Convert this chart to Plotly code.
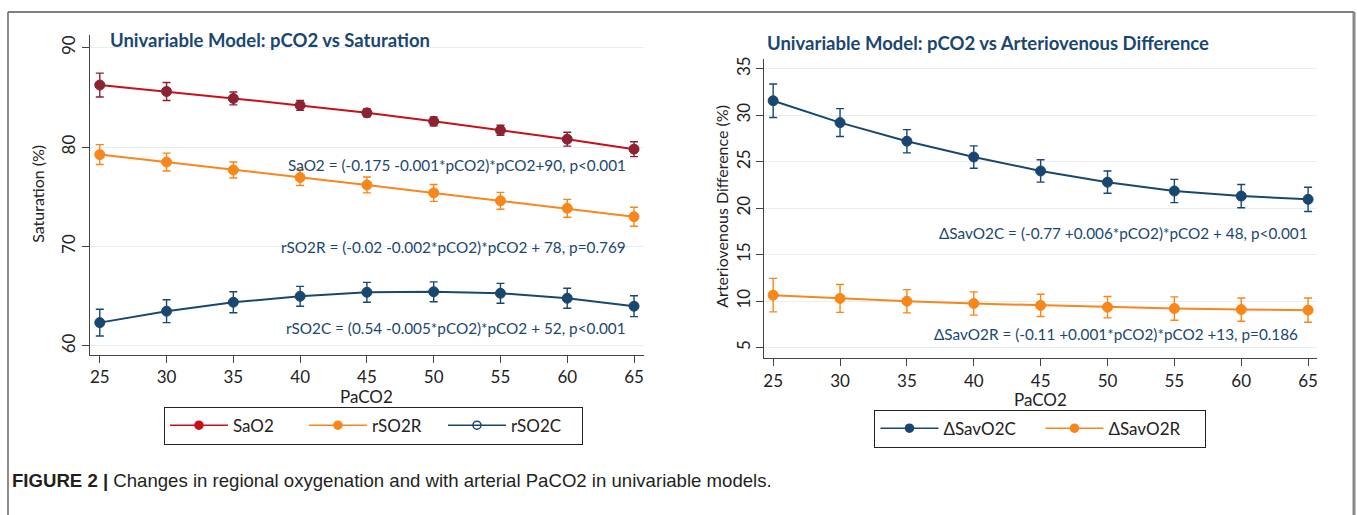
import plotly.graph_objects as go

W, H = 1357, 515

# ---------------- data ----------------
paco2 = [25, 30, 35, 40, 45, 50, 55, 60, 65]

sao2 = [86.25, 85.6, 84.9, 84.2, 83.45, 82.6, 81.7, 80.8, 79.8]
sao2_err = [1.2, 0.9, 0.65, 0.5, 0.4, 0.45, 0.5, 0.7, 0.75]

rso2r = [79.25, 78.5, 77.7, 76.95, 76.2, 75.4, 74.6, 73.85, 73.0]
rso2r_err = [1.0, 0.9, 0.8, 0.8, 0.8, 0.85, 0.85, 0.9, 0.95]

rso2c = [62.35, 63.5, 64.4, 65.0, 65.4, 65.45, 65.3, 64.8, 64.0]
rso2c_err = [1.35, 1.15, 1.05, 1.0, 1.0, 1.0, 1.0, 1.0, 1.05]

savo2c = [31.55, 29.2, 27.2, 25.5, 24.0, 22.8, 21.85, 21.3, 20.95]
savo2c_err = [1.8, 1.5, 1.25, 1.2, 1.2, 1.2, 1.25, 1.25, 1.3]

savo2r = [10.65, 10.3, 10.0, 9.75, 9.55, 9.36, 9.21, 9.1, 9.04]
savo2r_err = [1.8, 1.5, 1.25, 1.25, 1.2, 1.15, 1.25, 1.25, 1.3]

left_yticks = [60, 70, 80, 90]
right_yticks = [5, 10, 15, 20, 25, 30, 35]
xticks = [25, 30, 35, 40, 45, 50, 55, 60, 65]

# ---------------- styles ----------------
NAVY = "#1a476f"
RED = "#c8101a"
MAROON = "#8b2332"
ORANGE = "#f7861b"
GRID = "#e6eff3"
AXIS = "#444444"
TXT = "#222222"
FONT = "Lato, Open Sans, sans-serif"


def px_x(p):
    return p / W


def px_y(p):
    return 1 - p / H


fig = go.Figure()


def add_series(x, y, err, line_color, marker_color, xa, ya, name):
    fig.add_trace(go.Scatter(
        x=x, y=y, mode="lines+markers", name=name,
        xaxis=xa, yaxis=ya, showlegend=False,
        line=dict(color=line_color, width=2),
        marker=dict(color=marker_color, size=10,
                    line=dict(color=marker_color, width=1)),
        error_y=dict(type="data", array=err, visible=True,
                     color=marker_color, thickness=1.4, width=4),
    ))


add_series(paco2, sao2, sao2_err, RED, MAROON, "x", "y", "SaO2")
add_series(paco2, rso2r, rso2r_err, ORANGE, ORANGE, "x", "y", "rSO2R")
add_series(paco2, rso2c, rso2c_err, NAVY, NAVY, "x", "y", "rSO2C")
add_series(paco2, savo2c, savo2c_err, NAVY, NAVY, "x2", "y2", "ΔSavO2C")
add_series(paco2, savo2r, savo2r_err, ORANGE, ORANGE, "x2", "y2", "ΔSavO2R")

# legend-only entries (Stata style symbols)
leg_items = [
    ("SaO2", RED, RED, "circle", "legend", "x", "y"),
    ("rSO2R", ORANGE, ORANGE, "circle", "legend", "x", "y"),
    ("rSO2C", NAVY, NAVY, "circle-open", "legend", "x", "y"),
    ("ΔSavO2C", NAVY, NAVY, "circle", "legend2", "x2", "y2"),
    ("ΔSavO2R", ORANGE, ORANGE, "circle", "legend2", "x2", "y2"),
]
for name, lc, mc, sym, leg, xa, ya in leg_items:
    fig.add_trace(go.Scatter(
        x=[None], y=[None], mode="lines+markers", name=name,
        xaxis=xa, yaxis=ya, legend=leg,
        line=dict(color=lc, width=1.5),
        marker=dict(color=mc, size=8, symbol=sym, line=dict(color=mc, width=1.5)),
    ))

axis_common = dict(
    showline=True, linecolor=AXIS, linewidth=1.2,
    ticks="outside", ticklen=7, tickcolor=AXIS, tickwidth=1.2,
    tickfont=dict(family=FONT, size=17, color=TXT),
    zeroline=False, mirror=False,
)

fig.update_layout(
    width=W, height=H,
    margin=dict(l=0, r=0, t=0, b=0),
    paper_bgcolor="white", plot_bgcolor="white",
    font=dict(family=FONT, color=TXT),
    xaxis=dict(domain=[px_x(88.9), px_x(644)], range=[24.25, 65.75],
               tickvals=xticks, showgrid=False, anchor="y", **axis_common),
    yaxis=dict(domain=[px_y(354), px_y(32)], range=[59.1, 91.3],
               tickvals=left_yticks, tickangle=-90, showgrid=True, gridcolor=GRID,
               gridwidth=1.2, anchor="x", **axis_common),
    xaxis2=dict(domain=[px_x(764.6), px_x(1318)], range=[24.35, 65.67],
                tickvals=xticks, showgrid=False, anchor="y2", **axis_common),
    yaxis2=dict(domain=[px_y(357.3), px_y(56.7)], range=[3.87, 36.0],
                tickvals=right_yticks, tickangle=-90, showgrid=True, gridcolor=GRID,
                gridwidth=1.2, anchor="x2", **axis_common),
    legend=dict(orientation="h", x=px_x(373), y=px_y(406), xanchor="center", yanchor="top",
                bordercolor=TXT, borderwidth=1, bgcolor="white",
                font=dict(family=FONT, size=17, color=TXT),
                itemwidth=58, entrywidth=66, tracegroupgap=0),
    legend2=dict(orientation="h", x=px_x(1041), y=px_y(409), xanchor="center", yanchor="top",
                 bordercolor=TXT, borderwidth=1, bgcolor="white",
                 font=dict(family=FONT, size=17, color=TXT),
                 itemwidth=58, entrywidth=92),
)

annotations = [
    dict(text="<b>Univariable Model: pCO2 vs Saturation</b>", x=px_x(107), y=px_y(37),
         xanchor="left", yanchor="middle", font=dict(family=FONT, size=18.5, color=NAVY)),
    dict(text="<b>Univariable Model: pCO2 vs Arteriovenous Difference</b>", x=px_x(765), y=px_y(40.5),
         xanchor="left", yanchor="middle", font=dict(family=FONT, size=18.5, color=NAVY)),
    dict(text="PaCO2", x=px_x(366.5), y=px_y(396), xanchor="center", yanchor="middle",
         font=dict(family=FONT, size=17, color=TXT)),
    dict(text="PaCO2", x=px_x(1041.3), y=px_y(399), xanchor="center", yanchor="middle",
         font=dict(family=FONT, size=17, color=TXT)),
    dict(text="Saturation (%)", x=px_x(37), y=px_y(192), xanchor="center", yanchor="middle",
         textangle=-90, font=dict(family=FONT, size=16, color=TXT)),
    dict(text="Arteriovenous Difference (%)", x=px_x(722), y=px_y(204), xanchor="center",
         yanchor="middle", textangle=-90, font=dict(family=FONT, size=16, color=TXT)),
    dict(text="SaO2 = (-0.175 -0.001*pCO2)*pCO2+90, p<0.001", x=px_x(628), y=px_y(163),
         xanchor="right", yanchor="middle", font=dict(family=FONT, size=15.3, color=NAVY)),
    dict(text="rSO2R = (-0.02 -0.002*pCO2)*pCO2 + 78, p=0.769", x=px_x(628), y=px_y(245),
         xanchor="right", yanchor="middle", font=dict(family=FONT, size=15.3, color=NAVY)),
    dict(text="rSO2C = (0.54 -0.005*pCO2)*pCO2 + 52, p<0.001", x=px_x(628), y=px_y(327),
         xanchor="right", yanchor="middle", font=dict(family=FONT, size=15.3, color=NAVY)),
    dict(text="ΔSavO2C = (-0.77 +0.006*pCO2)*pCO2 + 48, p<0.001", x=px_x(1311), y=px_y(231.5),
         xanchor="right", yanchor="middle", font=dict(family=FONT, size=15.3, color=NAVY)),
    dict(text="ΔSavO2R = (-0.11 +0.001*pCO2)*pCO2 +13, p=0.186", x=px_x(1301), y=px_y(333),
         xanchor="right", yanchor="middle", font=dict(family=FONT, size=15.3, color=NAVY)),
    dict(text="<b>FIGURE 2 |</b> Changes in regional oxygenation and with arterial PaCO2 in univariable models.",
         x=px_x(9), y=px_y(480), xanchor="left", yanchor="middle",
         font=dict(family="Liberation Sans Narrow, Arial Narrow, Liberation Sans, sans-serif", size=18.6, color="#231f20")),
]
for a in annotations:
    a.update(xref="paper", yref="paper", showarrow=False)
fig.update_layout(annotations=annotations)

fig.update_layout(shapes=[
    dict(type="line", xref="paper", yref="paper", x0=px_x(7), x1=px_x(1355), y0=px_y(9), y1=px_y(9),
         line=dict(color="#555555", width=1.5)),
    dict(type="line", xref="paper", yref="paper", x0=px_x(7), x1=px_x(7), y0=px_y(9), y1=0,
         line=dict(color="#666666", width=1.5)),
    dict(type="line", xref="paper", yref="paper", x0=px_x(1355), x1=px_x(1355), y0=px_y(9), y1=0,
         line=dict(color="#888888", width=3)),
])

fig.write_html(
    "out.html",
    config={"displayModeBar": False},
    post_script="document.body.style.margin='0';document.body.style.overflow='hidden';",
)
